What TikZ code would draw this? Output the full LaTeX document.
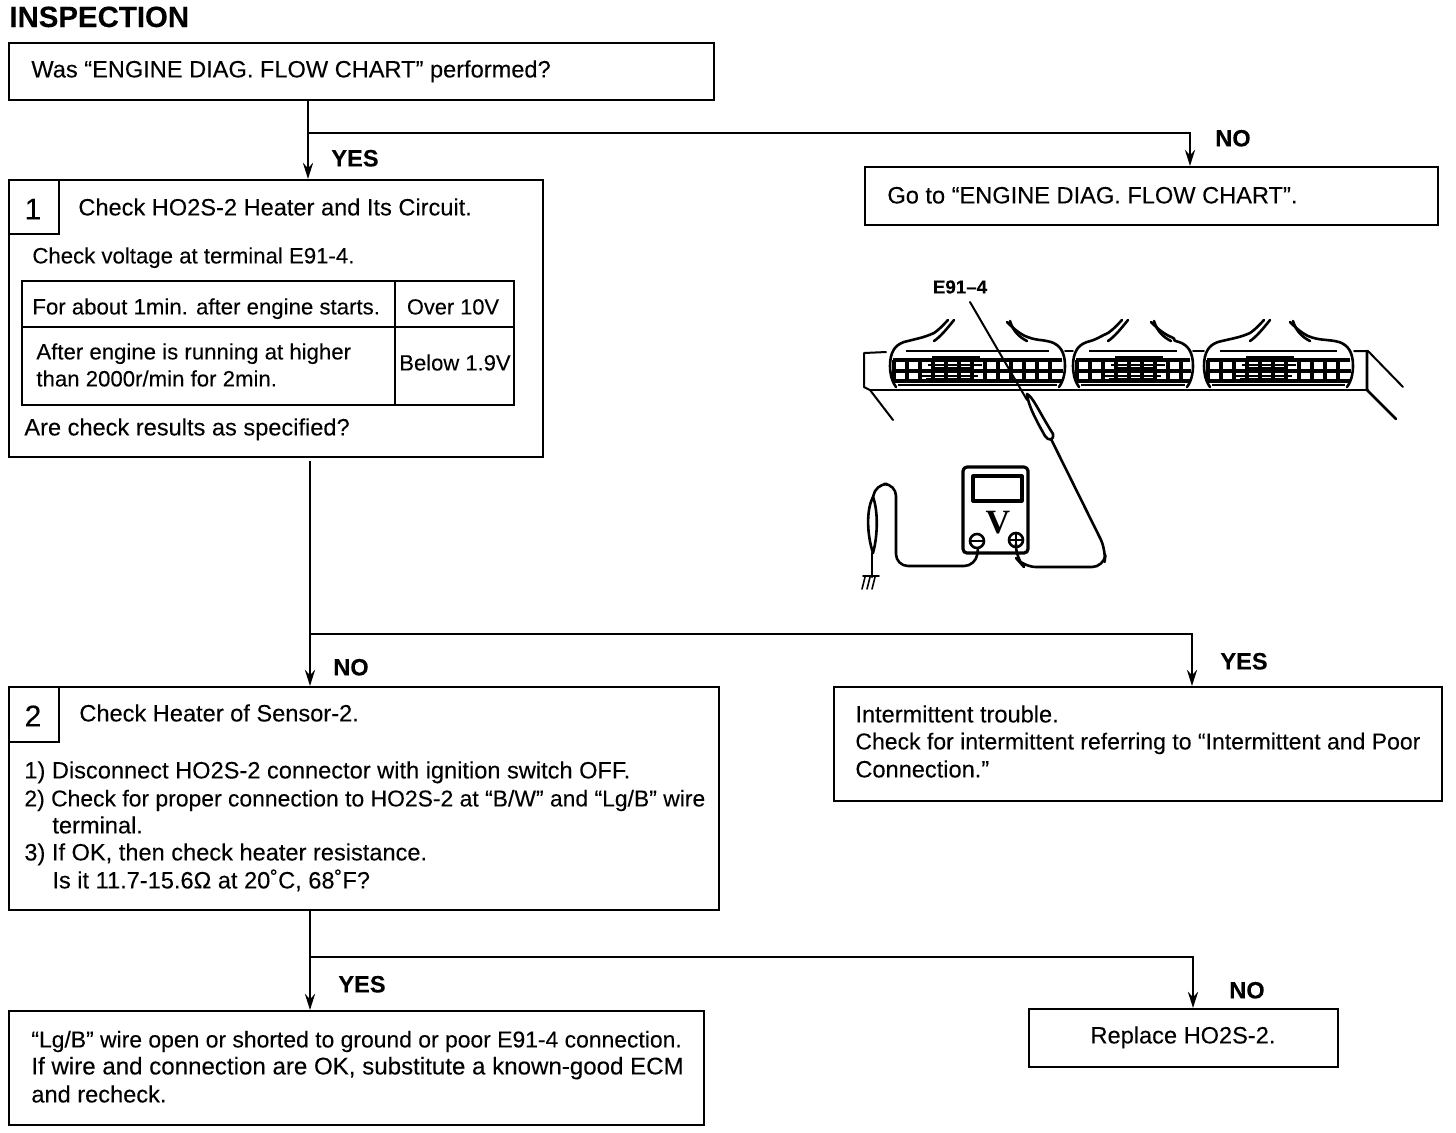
\documentclass[tikz,border=0pt]{standalone}
\usepackage{fontspec}
\setmainfont{Liberation Sans}[FakeBold=0.12]
\newfontfamily\vfont{Liberation Serif Bold}
\usetikzlibrary{arrows.meta,fit,calc}
\tikzset{
  bx/.style={draw=black,line width=1pt,inner sep=0pt,fill=none},
  conn/.style={draw=black,line width=1.4pt},
  arr/.style={conn,-{Stealth[length=8pt,width=5pt]}},
  tb/.style={anchor=base west,inner sep=0pt,yshift=-4.2pt},
  tc/.style={anchor=base,inner sep=0pt,yshift=-4.2pt},
  yn/.style={anchor=base,inner sep=0pt,yshift=-4.2pt,font=\fontsize{11.8}{14}\selectfont\bfseries},
  art/.style={draw=black,line width=.8pt,line join=round,line cap=round},
  artthick/.style={draw=black,line width=1.3pt,line join=round,line cap=round},
}
\newcommand{\bxx}[5]{\node[bx,fit={(#2,-#3)(#4,-#5)}] (#1) {};}
\newcommand{\tx}[5][11.8]{\node[tb,font=\fontsize{#1}{14}\selectfont] (#2) at (#3,-#4) {#5};}
\newcommand{\tcc}[5][11.8]{\node[tc,font=\fontsize{#1}{14}\selectfont] (#2) at (#3,-#4) {#5};}
% connector block: xl xr lefthoodtop righthoodtop
\newcommand{\ecu}[4]{%
  \draw[artthick] (#1+6,-387) .. controls (#1+1,-380) and (#1,-372) .. (#1,-366) .. controls (#1,-352) and (#1+5,-345) .. (#1+14,-342) .. controls (#1+25,-339) and (#3-25,-338) .. (#3-14,-333) .. controls (#3-8,-329) and (#3-4,-324) .. (#3,-320);
  \draw[artthick] (#3-14,-341) .. controls (#3-8,-337) and (#3-2,-330) .. (#3+6,-320);
  \draw[artthick] (#2-6,-387) .. controls (#2-1,-380) and (#2,-372) .. (#2,-366) .. controls (#2,-352) and (#2-5,-345) .. (#2-14,-342) .. controls (#2-25,-339) and (#4+30,-341) .. (#4+18,-336) .. controls (#4+10,-332) and (#4+4,-326) .. (#4,-322);
  \draw[artthick] (#4+20,-341) .. controls (#4+12,-337) and (#4+6,-331) .. (#4+3,-321);
  \draw[line width=1.3pt] (#1+16,-351) -- (#2-16,-351);
  \draw[line width=1pt] (#1+8,-385) -- (#2-8,-385);
  \draw[line width=1.6pt] (#1+3,-360) -- (#2-3,-360) (#1+2,-371) -- (#2-2,-371) (#1+3,-381) -- (#2-3,-381);
  \foreach \gx in {0,1,...,30}{
    \pgfmathsetmacro{\xx}{#1+4+\gx*13}
    \pgfmathparse{\xx<#2-3?1:0}
    \ifnum\pgfmathresult=1 \draw[line width=1.7pt] (\xx,-360) -- (\xx,-381);\fi
  }
  \draw[line width=1pt] (#1+42,-357) -- (#1+90,-357) (#1+38,-365) -- (#1+92,-365) (#1+30,-376) -- (#1+88,-376) (#1+44,-368) -- (#1+84,-368) (#1+36,-379) -- (#1+80,-379);
}
\begin{document}
\begin{tikzpicture}[x=.5pt,y=.5pt]
\useasboundingbox (0,0) rectangle (1456,-1132);
\node[anchor=base west,inner sep=0pt,font=\fontsize{14.7}{16}\selectfont\bfseries] (title) at (9,-27) {INSPECTION};

% boxes
\bxx{q0}{9}{43}{714}{100}
\tx{q0t}{31}{69}{Was “ENGINE DIAG. FLOW CHART” performed?}

\bxx{b1}{9}{180}{543}{457}
\bxx{n1}{9}{180}{59}{234}
\node[tc,font=\fontsize{15}{16}\selectfont] (n1t) at (33,-211) {1};
\tx{b1t}{78}{207}{Check HO2S-2 Heater and Its Circuit.}
\tx[11.1]{b1a}{32}{255}{Check voltage at terminal E91-4.}
\bxx{tbl}{22}{281}{514}{405}
\draw[bx] (tbl.west |- 0,-327) -- (tbl.east |- 0,-327);
\draw[bx] (395,0 |- tbl.north) -- (395,0 |- tbl.south);
\tx[11.1]{c11}{32}{306}{For about 1min. after engine starts.}
\tcc[10.9]{c12}{453}{306}{Over 10V}
\tx[11.1]{c21}{36}{351}{After engine is running at higher}
\tx[11.1]{c22}{36}{378}{than 2000r/min for 2min.}
\tcc[11]{c23}{455}{362}{Below 1.9V}
\tx{b1z}{24}{427}{Are check results as specified?}

\bxx{go}{865}{167}{1438}{225}
\tx{got}{887}{195}{Go to “ENGINE DIAG. FLOW CHART”.}

\bxx{b2}{9}{687}{719}{910}
\bxx{n2}{9}{687}{59}{742}
\node[tc,font=\fontsize{15}{16}\selectfont] (n2t) at (33,-718) {2};
\tx{b2t}{79}{713}{Check Heater of Sensor-2.}
\tx{b2a}{24}{770}{1) Disconnect HO2S-2 connector with ignition switch OFF.}
\tx[11.45]{b2b}{24}{798}{2) Check for proper connection to HO2S-2 at “B/W” and “Lg/B” wire}
\tx{b2c}{52}{825}{terminal.}
\tx{b2d}{24}{852}{3) If OK, then check heater resistance.}
\tx{b2e}{52}{880}{Is it 11.7-15.6Ω at 20˚C, 68˚F?}

\bxx{im}{834}{687}{1442}{801}
\tx{im1}{855}{714}{Intermittent trouble.}
\tx[11.5]{im2}{855}{741}{Check for intermittent referring to “Intermittent and Poor}
\tx{im3}{855}{769}{Connection.”}

\bxx{ye}{9}{1011}{704}{1125}
\tx[11.45]{ye1}{31}{1039}{“Lg/B” wire open or shorted to ground or poor E91-4 connection.}
\tx[12.05]{ye2}{31}{1066}{If wire and connection are OK, substitute a known-good ECM}
\tx{ye3}{31}{1094}{and recheck.}

\bxx{re}{1029}{1009}{1338}{1067}
\tcc{ret}{1183}{1035}{Replace HO2S-2.}

% connectors
\coordinate (j1) at (308,-133);
\coordinate (j2) at (310,-634);
\coordinate (j3) at (310,-957);
\coordinate (k1) at (1190,-133);
\coordinate (k2) at (1192,-634);
\coordinate (k3) at (1193,-957);
\draw[arr] (j1 |- q0.south) -- (j1 |- b1.north);
\draw[arr] (j1) -- (k1) -- (k1 |- go.north);
\draw[arr,shorten <=1.5pt] (j2 |- b1.south) -- (j2 |- b2.north);
\draw[arr] (j2) -- (k2) -- (k2 |- im.north);
\draw[arr] (j3 |- b2.south) -- (j3 |- ye.north);
\draw[arr] (j3) -- (k3) -- (k3 |- re.north);
\node[yn] (l1) at (1233,-138) {NO};
\node[yn] (l2) at (355,-158) {YES};
\node[yn] (l3) at (351,-667) {NO};
\node[yn] (l4) at (1244,-661) {YES};
\node[yn] (l5) at (362,-984) {YES};
\node[yn] (l6) at (1247,-990) {NO};

% illustration
\node[anchor=center,inner sep=0pt,font=\fontsize{9.4}{10}\selectfont\bfseries] (e91) at (960,-287) {E91–4};
\ecu{890}{1065}{948}{1007}
\ecu{1073}{1193}{1122}{1151}
\ecu{1204}{1353}{1264}{1290}
\draw[art,line width=1pt] (886,-352) -- (864,-353) -- (864,-387) -- (870,-390) -- (893,-420);
\draw[artthick] (870,-390) -- (1368,-390);
\draw[art,line width=1pt] (1354,-351) -- (1368,-351) -- (1403,-387);
\draw[artthick] (1367,-351) -- (1367,-390) -- (1396,-419);
\draw[art] (1193,-351) -- (1204,-351) (1065,-351) -- (1073,-351);
% test lead and probe
\draw[art,line width=1pt] (970,-302) -- (1027,-400);
\draw[artthick,fill=white] (1027,-394) .. controls (1033,-397) and (1038,-410) .. (1053,-434) .. controls (1054,-441) and (1048,-441) .. (1045,-436) .. controls (1036,-420) and (1028,-405) .. (1027,-394) -- cycle;
\draw[artthick,rounded corners=6pt] (1051,-439) -- (1106,-550) -- (1104,-567) -- (1024,-567) -- (1016,-558) -- (1016,-544);
% meter
\draw[artthick,rounded corners=2pt,line width=1.6pt] (963,-467) rectangle (1028,-553);
\draw[artthick,line width=1.6pt] (973,-476) rectangle (1022,-501);
\node[anchor=center,inner sep=0pt,font=\fontsize{17}{18}\vfont\selectfont] (vv) at (998,-523) {V};
\draw[artthick] (977,-541) circle (7);
\draw[artthick] (1016,-540) circle (7);
\draw[artthick] (971,-541) -- (983,-541);
\draw[artthick] (1010,-540) -- (1022,-540) (1016,-534) -- (1016,-546);
\draw[artthick,rounded corners=6pt] (978,-548) -- (976,-566) -- (896,-566) -- (896,-484) -- (875,-484) -- (873,-498);
\draw[artthick] (873,-497) .. controls (878,-510) and (878,-535) .. (873,-553) .. controls (867,-535) and (866,-510) .. (873,-497) -- cycle;
\draw[artthick] (872,-553) -- (872,-577);
\draw[art] (863,-576) -- (879,-576);
\foreach \gx in {865,870,875}{\draw[art] (\gx,-577) -- (\gx-3,-589);}
\end{tikzpicture}
\end{document}
